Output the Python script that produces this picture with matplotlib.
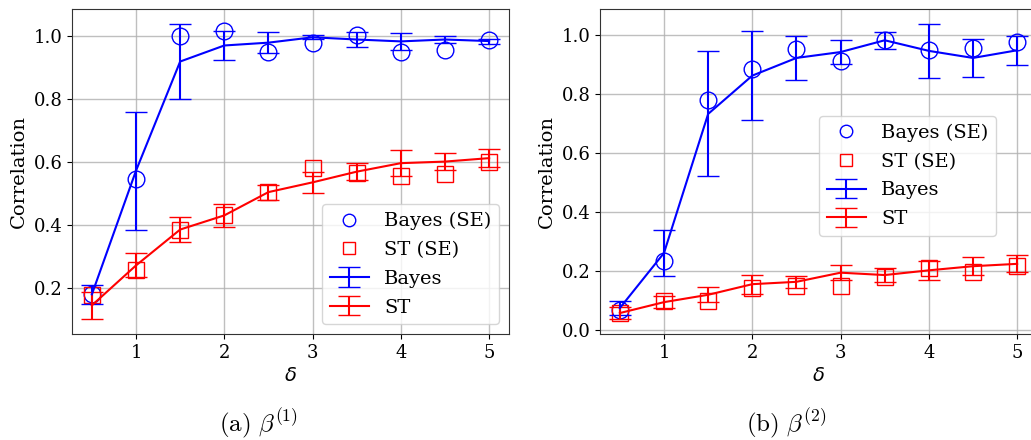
"""Correlation vs delta for Bayes and ST estimators (two panels)."""

import matplotlib

matplotlib.use("Agg")
import matplotlib.pyplot as plt

plt.rcParams["font.family"] = "serif"
plt.rcParams["font.size"] = 14
plt.rcParams["xtick.labelsize"] = 13
plt.rcParams["ytick.labelsize"] = 13

delta = [0.5, 1.0, 1.5, 2.0, 2.5, 3.0, 3.5, 4.0, 4.5, 5.0]

# panel (a): beta^(1)
bayes_mean_a = [0.18, 0.573, 0.92, 0.971, 0.98, 0.997, 0.99, 0.984, 0.99, 0.985]
bayes_err_a = [0.03, 0.187, 0.12, 0.047, 0.033, 0.006, 0.023, 0.026, 0.012, 0.008]
bayes_se_a = [0.18, 0.548, 1.0, 1.016, 0.95, 0.979, 1.005, 0.95, 0.958, 0.989]
st_mean_a = [0.145, 0.272, 0.386, 0.431, 0.505, 0.536, 0.570, 0.597, 0.602, 0.613]
st_err_a = [0.044, 0.038, 0.041, 0.037, 0.024, 0.033, 0.028, 0.041, 0.028, 0.028]
st_se_a = [0.177, 0.257, 0.386, 0.431, 0.505, 0.582, 0.566, 0.556, 0.564, 0.600]

# panel (b): beta^(2)
bayes_mean_b = [0.073, 0.26, 0.732, 0.862, 0.922, 0.942, 0.982, 0.946, 0.922, 0.948]
bayes_err_b = [0.023, 0.078, 0.212, 0.15, 0.076, 0.04, 0.028, 0.092, 0.063, 0.05]
bayes_se_b = [0.066, 0.234, 0.78, 0.885, 0.953, 0.912, 0.984, 0.950, 0.957, 0.977]
st_mean_b = [0.056, 0.093, 0.118, 0.154, 0.162, 0.193, 0.185, 0.201, 0.215, 0.223]
st_err_b = [0.021, 0.02, 0.026, 0.032, 0.02, 0.026, 0.025, 0.032, 0.031, 0.029]
st_se_b = [0.056, 0.096, 0.096, 0.140, 0.147, 0.147, 0.179, 0.209, 0.195, 0.217]

captions = [r"$\mathrm{(a)}\ \beta^{(1)}$", r"$\mathrm{(b)}\ \beta^{(2)}$"]


def draw_panel(ax, bm, be, bs, sm, se, ss):
    h1, = ax.plot(delta, bs, "o", mfc="none", mec="blue", ms=12, mew=1.0,
                  label="Bayes (SE)")
    h2, = ax.plot(delta, ss, "s", mfc="none", mec="red", ms=11, mew=1.0,
                  label="ST (SE)")
    h3 = ax.errorbar(delta, bm, yerr=be, color="blue", capsize=8,
                     linewidth=1.5, label="Bayes")
    h4 = ax.errorbar(delta, sm, yerr=se, color="red", capsize=8,
                     linewidth=1.5, label="ST")
    ax.set_xlabel(r"$\delta$")
    ax.set_ylabel("Correlation")
    ax.set_xticks([1, 2, 3, 4, 5])
    ax.grid(True, color="#b0b0b0", linewidth=1.0, alpha=0.8)
    for s in ax.spines.values():
        s.set_color("#333333")
    return [h1, h2, h3, h4]


fig = plt.figure(figsize=(10.31, 4.40), dpi=100)
ax1 = fig.add_axes([72 / 1031, 106 / 440, 437 / 1031, 325 / 440])
ax2 = fig.add_axes([600 / 1031, 106 / 440, 437 / 1031, 325 / 440])

hs = draw_panel(ax1, bayes_mean_a, bayes_err_a, bayes_se_a,
                st_mean_a, st_err_a, st_se_a)
ax1.legend(handles=hs, loc="lower right", markerscale=0.75,
           labelspacing=0.55)

hs = draw_panel(ax2, bayes_mean_b, bayes_err_b, bayes_se_b,
                st_mean_b, st_err_b, st_se_b)
ax2.legend(handles=hs, loc="upper left", bbox_to_anchor=(0.501, 0.671),
           borderaxespad=0, markerscale=0.75, labelspacing=0.55)

fig.text(258 / 1031, 1 - 432 / 440, captions[0], ha="center", va="baseline",
         fontsize=18, math_fontfamily="cm")
fig.text(786 / 1031, 1 - 432 / 440, captions[1], ha="center", va="baseline",
         fontsize=18, math_fontfamily="cm")

fig.savefig("out.png", dpi=100)
